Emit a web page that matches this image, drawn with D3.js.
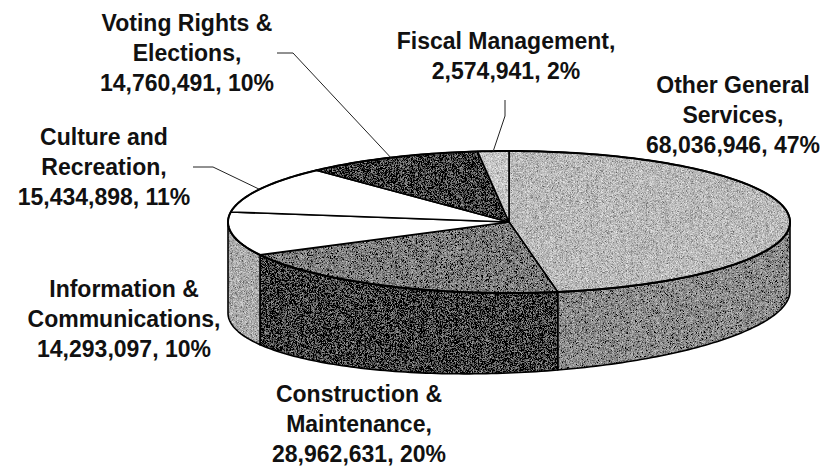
<!DOCTYPE html>
<html>
<head>
<meta charset="utf-8">
<script src="https://cdn.jsdelivr.net/npm/d3@7"></script>
<style>
  body { margin: 0; background: #fff; }
  svg { display: block; }
  text { font-family: "Liberation Sans", Arial, sans-serif; font-weight: bold; font-size: 23px; fill: #111; }
</style>
</head>
<body>
<div id="chart"></div>
<script>
// data, clockwise from 12 o'clock
const categories = ["Other General Services", "Construction & Maintenance", "Information & Communications",
  "Culture and Recreation", "Voting Rights & Elections", "Fiscal Management"];
const amounts = [68036946, 28962631, 14293097, 15434898, 14760491, 2574941];
const percents = [47, 20, 10, 11, 10, 2];
const labelLines = [
  ["Other General", "Services,"],
  ["Construction &", "Maintenance,"],
  ["Information &", "Communications,"],
  ["Culture and", "Recreation,"],
  ["Voting Rights &", "Elections,"],
  ["Fiscal Management,"]
];

// styling
const topColors = ["#b9b9b9", "#7c7c7c", "#ffffff", "#ffffff", "#3c3c3c", "#c6c6c6"];
const sideColors = ["#8b8b8b", "#3e3e3e", "#ababab", "#e0e0e0", "#2a2a2a", "#9a9a9a"];
// label anchor (centre x, first baseline) and leader elbows
const labelPos = [[733, 93], [359, 402], [124, 297], [104, 145], [187, 31], [506, 49]];
const leaders = { 3: [[193, 167], [213, 167]], 4: [[277, 53], [293, 53]], 5: [[505, 100], [505, 116]] };

const W = 837, H = 471;
const cx = 509, cy = 222, rx = 281, ry = 71;
const lineH = 30;

const svg = d3.select("#chart").append("svg").attr("width", W).attr("height", H);

// scanned halftone look: fine per-pixel grain
const f = svg.append("defs").append("filter").attr("id", "grain")
  .attr("x", 0).attr("y", 0).attr("width", "100%").attr("height", "100%");
f.append("feTurbulence").attr("type", "fractalNoise").attr("baseFrequency", 2.2)
  .attr("numOctaves", 2).attr("seed", 4).attr("result", "n");
f.append("feColorMatrix").attr("in", "n").attr("type", "matrix")
  .attr("values", "1 0 0 0 0  1 0 0 0 0  1 0 0 0 0  0 0 0 0 1").attr("result", "g");
f.append("feComposite").attr("in", "SourceGraphic").attr("in2", "g").attr("operator", "arithmetic")
  .attr("k1", 0).attr("k2", 1).attr("k3", 1.1).attr("k4", -0.55).attr("result", "m");
f.append("feComposite").attr("in", "m").attr("in2", "SourceGraphic").attr("operator", "in");

const x = d3.scaleLinear().domain([-1, 1]).range([cx - rx, cx + rx]);
const y = d3.scaleLinear().domain([-1, 1]).range([cy - ry, cy + ry]);
const depth = a => 80 - 11 * Math.sin(a);   // scan perspective: left side a bit deeper

const rim = a => [x(Math.sin(a)), y(-Math.cos(a))];
const rimLow = a => { const p = rim(a); return [p[0], p[1] + depth(a)]; };

const pie = d3.pie().sort(null).value(d => d);
const arcs = pie(amounts);

function sample(a0, a1) {
  const n = Math.max(2, Math.ceil((a1 - a0) / 0.02));
  return d3.range(n + 1).map(i => a0 + (a1 - a0) * i / n);
}
const line = d3.line();

function shape(g, d, fill) {
  // grain fill first, crisp outline on top
  if (fill !== "#ffffff") g.append("path").attr("d", d).attr("fill", fill).attr("filter", "url(#grain)");
  g.append("path").attr("d", d)
    .attr("fill", fill === "#ffffff" ? fill : "none")
    .attr("stroke", "#000")
    .attr("stroke-width", 1.6)
    .attr("stroke-linejoin", "round");
}

// side walls (only the front half is visible)
const sides = svg.append("g");
arcs.forEach((d, i) => {
  const a0 = Math.max(d.startAngle, Math.PI / 2), a1 = Math.min(d.endAngle, Math.PI * 1.5);
  if (a1 <= a0) return;
  const s = sample(a0, a1);
  const pts = s.map(rim).concat(s.slice().reverse().map(rimLow));
  shape(sides, line(pts) + "Z", sideColors[i]);
});

// tops
const tops = svg.append("g");
arcs.forEach((d, i) => {
  const pts = [[cx, cy]].concat(sample(d.startAngle, d.endAngle).map(rim));
  shape(tops, line(pts) + "Z", topColors[i]);
});
// heavier outer rim
tops.append("path")
  .attr("d", line(sample(0, Math.PI * 2).map(rim)) + "Z")
  .attr("fill", "none")
  .attr("stroke", "#000")
  .attr("stroke-width", 2);

// leader lines to slice mid-angle on the rim
const lead = svg.append("g");
Object.keys(leaders).forEach(k => {
  const d = arcs[+k];
  const mid = (d.startAngle + d.endAngle) / 2;
  lead.append("path")
    .attr("d", line(leaders[k].concat([rim(mid)])))
    .attr("fill", "none")
    .attr("stroke", "#222")
    .attr("stroke-width", 1);
});

// labels
const fmt = d3.format(",");
const labels = svg.append("g");
categories.forEach((c, i) => {
  const lines = labelLines[i].concat([fmt(amounts[i]) + ", " + percents[i] + "%"]);
  const t = labels.append("text")
    .attr("text-anchor", "middle")
    .attr("x", labelPos[i][0])
    .attr("y", labelPos[i][1]);
  lines.forEach((s, j) => {
    t.append("tspan").attr("x", labelPos[i][0]).attr("dy", j ? lineH : 0).text(s);
  });
});
</script>
</body>
</html>
